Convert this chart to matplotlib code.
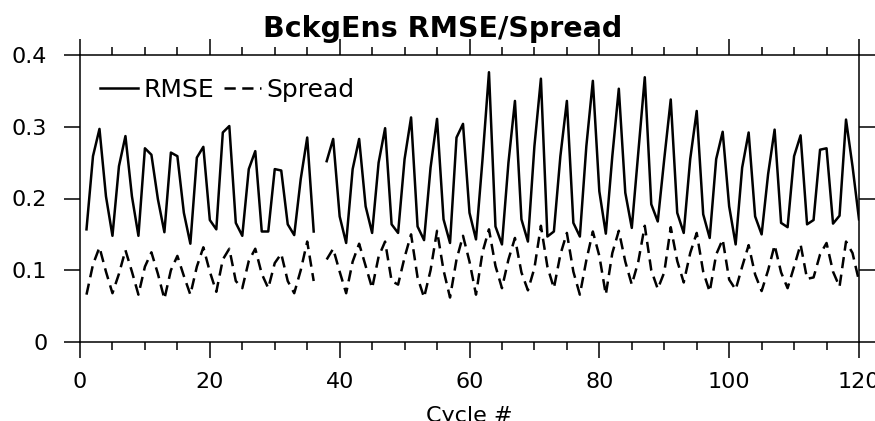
import numpy as np
import matplotlib
matplotlib.use('Agg')
import matplotlib.pyplot as plt
from matplotlib.ticker import MultipleLocator

# ciclos 1..120 (ciclo 37 sem dado)
cycles = np.arange(1, 121)

rmse = [
    0.157, 0.259, 0.297, 0.203, 0.148, 0.245, 0.287, 0.203, 0.148, 0.270,
    0.261, 0.199, 0.153, 0.264, 0.259, 0.180, 0.137, 0.257, 0.272, 0.170,
    0.157, 0.292, 0.301, 0.166, 0.148, 0.241, 0.266, 0.154, 0.154, 0.241,
    0.239, 0.164, 0.149, 0.227, 0.285, 0.154, np.nan, 0.252, 0.283, 0.175,
    0.138, 0.241, 0.283, 0.189, 0.152, 0.250, 0.298, 0.164, 0.152, 0.255,
    0.313, 0.161, 0.142, 0.243, 0.311, 0.171, 0.138, 0.285, 0.304, 0.180,
    0.143, 0.254, 0.376, 0.161, 0.136, 0.250, 0.336, 0.171, 0.140, 0.273,
    0.367, 0.147, 0.154, 0.259, 0.336, 0.166, 0.147, 0.273, 0.364, 0.210,
    0.151, 0.259, 0.353, 0.208, 0.159, 0.264, 0.369, 0.192, 0.168, 0.255,
    0.338, 0.180, 0.152, 0.255, 0.322, 0.178, 0.145, 0.255, 0.293, 0.189,
    0.136, 0.243, 0.292, 0.175, 0.150, 0.234, 0.296, 0.166, 0.160, 0.259,
    0.288, 0.164, 0.170, 0.268, 0.270, 0.165, 0.176, 0.310, 0.245, 0.171,
]

spread = [
    0.066, 0.108, 0.132, 0.098, 0.068, 0.095, 0.128, 0.098, 0.066, 0.105,
    0.125, 0.095, 0.060, 0.100, 0.120, 0.092, 0.066, 0.105, 0.132, 0.098,
    0.070, 0.115, 0.130, 0.085, 0.075, 0.113, 0.130, 0.095, 0.075, 0.110,
    0.123, 0.085, 0.068, 0.100, 0.140, 0.085, np.nan, 0.115, 0.130, 0.098,
    0.068, 0.112, 0.137, 0.106, 0.075, 0.119, 0.140, 0.085, 0.080, 0.118,
    0.150, 0.090, 0.062, 0.100, 0.155, 0.100, 0.062, 0.115, 0.148, 0.112,
    0.066, 0.125, 0.157, 0.106, 0.075, 0.115, 0.145, 0.097, 0.072, 0.103,
    0.162, 0.105, 0.075, 0.122, 0.152, 0.098, 0.066, 0.114, 0.154, 0.120,
    0.066, 0.124, 0.155, 0.112, 0.080, 0.112, 0.162, 0.100, 0.074, 0.097,
    0.160, 0.113, 0.083, 0.124, 0.152, 0.098, 0.070, 0.122, 0.143, 0.087,
    0.073, 0.105, 0.135, 0.094, 0.071, 0.100, 0.135, 0.097, 0.075, 0.105,
    0.136, 0.088, 0.090, 0.122, 0.138, 0.098, 0.077, 0.140, 0.124, 0.085,
]

xticks = [0, 20, 40, 60, 80, 100, 120]
yticks = [0, 0.1, 0.2, 0.3, 0.4]
ytick_labels = ['0', '0.1', '0.2', '0.3', '0.4']

fig = plt.figure(figsize=(8.75, 4.21), dpi=100)
ax = fig.add_axes([80 / 875, 79 / 421, 779 / 875, 287 / 421])

ax.plot(cycles, rmse, color='black', lw=1.8, label='RMSE')
ax.plot(cycles, spread, color='black', lw=1.8, dashes=(4.5, 2.6), label='Spread')

ax.set_xlim(0, 120)
ax.set_ylim(0, 0.4)
ax.set_xticks(xticks)
ax.xaxis.set_minor_locator(MultipleLocator(5))
ax.set_yticks(yticks)
ax.set_yticklabels(ytick_labels)

for s in ax.spines.values():
    s.set_linewidth(1.1)
ax.tick_params(which='both', direction='out', top=True, right=True,
               width=1.1, labelsize=16)
ax.tick_params(which='major', length=11.5)
ax.tick_params(which='minor', length=5.8)
ax.tick_params(axis='y', pad=12)
ax.tick_params(axis='x', pad=10)

ax.set_xlabel('Cycle #', fontsize=16, labelpad=10)

leg = ax.legend(loc='center left', bbox_to_anchor=(0.0257, 0.878), ncol=2,
                frameon=False, fontsize=18, handlelength=1.5,
                handletextpad=0.22, columnspacing=0.4,
                borderpad=0, borderaxespad=0)

fig.text(443 / 875, 1 - 37 / 421, 'BckgEns RMSE/Spread', ha='center',
         va='baseline', fontsize=20.5, fontweight='bold')

fig.savefig('out.png', dpi=100)
